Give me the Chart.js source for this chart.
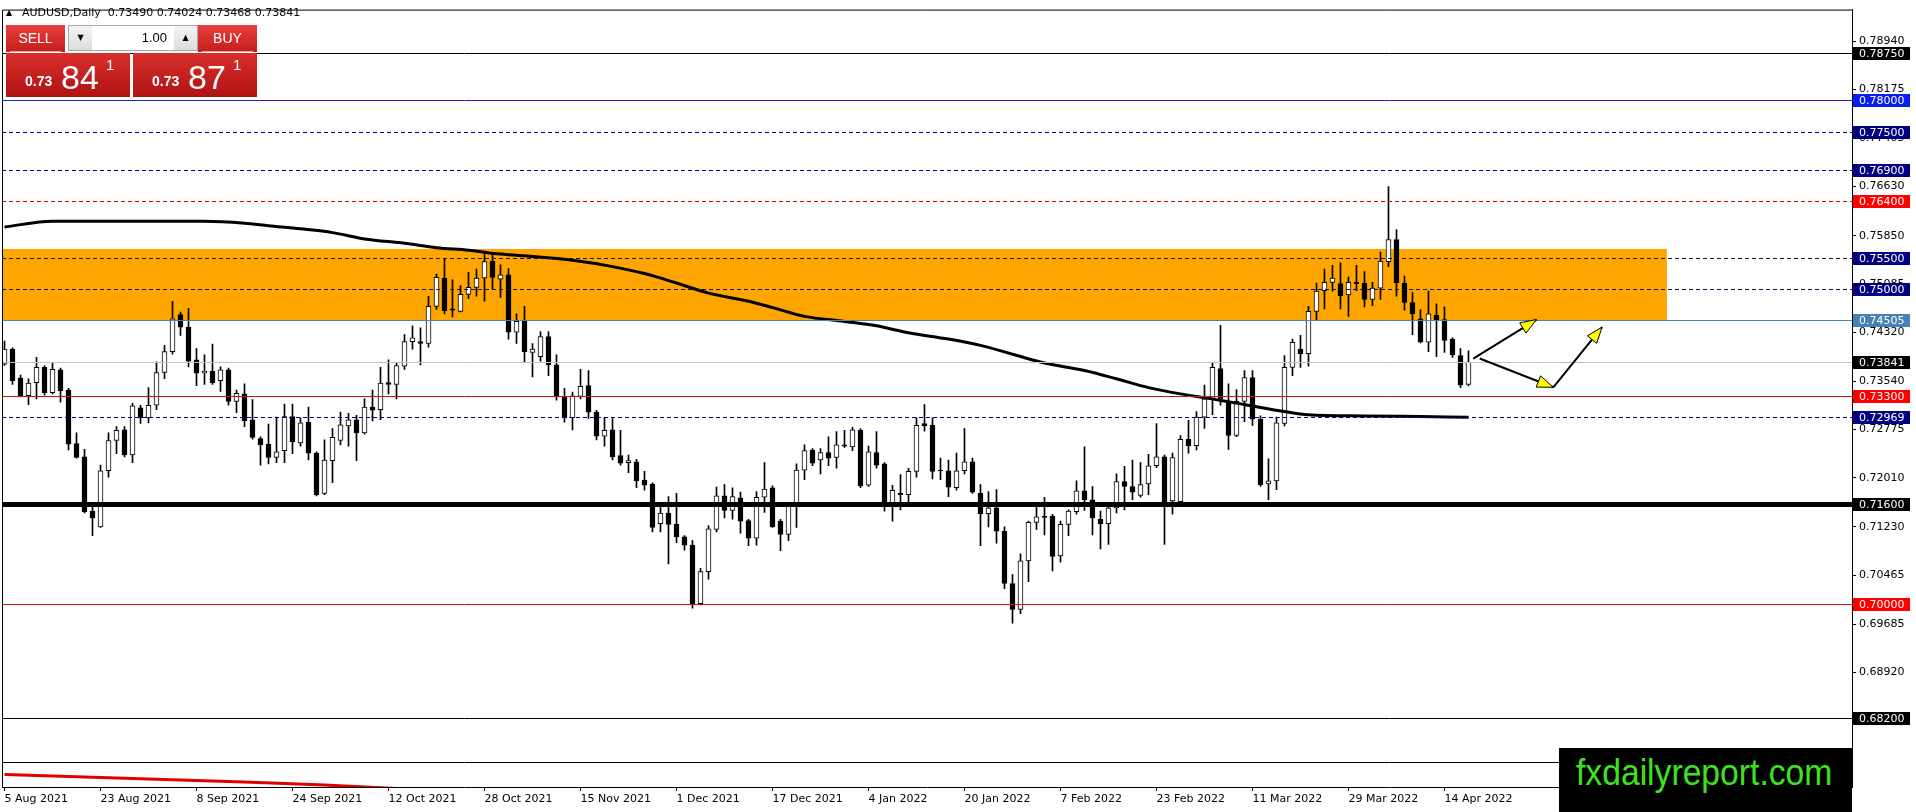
<!DOCTYPE html>
<html>
<head>
<meta charset="utf-8">
<script src="https://cdn.jsdelivr.net/npm/chart.js@4.4.1/dist/chart.umd.min.js"></script>
<style>
  body { margin: 0; background: #fff; overflow: hidden; font-family: "DejaVu Sans", sans-serif; }
  #wrap { position: relative; width: 1916px; height: 812px; }
  #chart { position: absolute; left: 0; top: 0; }
  .hdr { position: absolute; left: 22px; top: 6px; font-size: 11px; line-height: 14px; color: #000; white-space: pre; }
  .tri { position: absolute; left: 6px; top: 8px; font-size: 8px; line-height: 10px; }
  .red { position: absolute; background: linear-gradient(#e7403c, #c41d1d); color: #fff; font-family: "Liberation Sans", Arial, sans-serif; }
  .btn { height: 27px; top: 25px; width: 59px; font-size: 14px; line-height: 27px; text-align: center; }
  .btn i { position: absolute; left: 4px; right: 4px; bottom: 0; height: 1px; background: #f3a0a0; }
  .panel { top: 53px; width: 124px; height: 44px; background: linear-gradient(#d8302c, #b01212); overflow: hidden; }
  .panel span { position: absolute; line-height: 1; white-space: nowrap; }
  .small { font-size: 14px; font-weight: bold; }
  .big { font-size: 34px; }
  .sup { font-size: 15px; }
  .spin { position: absolute; left: 68px; top: 25px; width: 128px; height: 24px; background: #fff; border: 1px solid #a8a8a8; }
  .spin b { position: absolute; top: 0; width: 23px; height: 24px; background: linear-gradient(#f4f4f4, #dcdcdc); font-size: 8px; line-height: 24px; text-align: center; font-weight: normal; }
  .spin .val { position: absolute; left: 28px; width: 70px; top: 0; font-size: 13px; line-height: 24px; text-align: right; font-family: "Liberation Sans", Arial, sans-serif; }
  .mark { position: absolute; left: 1559px; top: 748px; width: 293px; height: 64px; background: #000; overflow: hidden; }
  .mark span { position: absolute; left: 17px; top: 6px; font-family: "Liberation Sans", Arial, sans-serif; font-size: 37px; line-height: 1; color: #3fe21f; transform: scaleX(0.91); transform-origin: 0 0; white-space: nowrap; }
</style>
</head>
<body>
<div id="wrap">
  <canvas id="chart" width="1916" height="812"></canvas>
  <div class="tri">▲</div>
  <div class="hdr">AUDUSD,Daily  0.73490 0.74024 0.73468 0.73841</div>
  <div class="red btn" style="left:6px">SELL<i></i></div>
  <div class="spin"><b style="left:0">▼</b><div class="val">1.00</div><b style="right:0">▲</b></div>
  <div class="red btn" style="left:198px">BUY<i></i></div>
  <div class="red panel" style="left:6px"><span class="small" style="left:19px;top:21px">0.73</span><span class="big" style="left:55px;top:7px">84</span><span class="sup" style="left:100px;top:4px">1</span></div>
  <div class="red panel" style="left:133px"><span class="small" style="left:19px;top:21px">0.73</span><span class="big" style="left:55px;top:7px">87</span><span class="sup" style="left:100px;top:4px">1</span></div>
  <div class="mark"><span>fxdailyreport.com</span></div>
</div>
<script>
// daily AUDUSD candles, bar 0 = 5 Aug 2021 ... bar 183 = 20 Apr 2022
const opens = [
  0.7381, 0.7405, 0.7359, 0.7331, 0.7352, 0.7376, 0.7336, 0.7372, 0.7340, 0.7255,
  0.7234, 0.7148, 0.7123, 0.7212, 0.7260, 0.7277, 0.7237, 0.7312, 0.7296, 0.7316,
  0.7368, 0.7401, 0.7460, 0.7440, 0.7388, 0.7367, 0.7370, 0.7355, 0.7372, 0.7322,
  0.7334, 0.7293, 0.7263, 0.7254, 0.7233, 0.7244, 0.7298, 0.7256, 0.7289, 0.7240,
  0.7176, 0.7228, 0.7260, 0.7283, 0.7293, 0.7272, 0.7313, 0.7309, 0.7352, 0.7349,
  0.7378, 0.7417, 0.7417, 0.7414, 0.7473, 0.7518, 0.7469, 0.7465, 0.7492, 0.7503,
  0.7518, 0.7545, 0.7516, 0.7523, 0.7432, 0.7449, 0.7400, 0.7393, 0.7425, 0.7380,
  0.7329, 0.7296, 0.7330, 0.7347, 0.7305, 0.7267, 0.7277, 0.7236, 0.7225, 0.7226,
  0.7197, 0.7191, 0.7128, 0.7145, 0.7127, 0.7107, 0.7094, 0.7001, 0.7052, 0.7119,
  0.7172, 0.7149, 0.7169, 0.7133, 0.7105, 0.7170, 0.7185, 0.7132, 0.7111, 0.7156,
  0.7213, 0.7245, 0.7229, 0.7241, 0.7233, 0.7253, 0.7250, 0.7276, 0.7189, 0.7241,
  0.7223, 0.7161, 0.7176, 0.7174, 0.7211, 0.7287, 0.7284, 0.7213, 0.7212, 0.7185,
  0.7212, 0.7226, 0.7176, 0.7144, 0.7153, 0.7116, 0.7033, 0.6992, 0.7069, 0.7130,
  0.7140, 0.7140, 0.7077, 0.7127, 0.7147, 0.7180, 0.7166, 0.7135, 0.7128, 0.7153,
  0.7195, 0.7187, 0.7173, 0.7191, 0.7220, 0.7234, 0.7164, 0.7163, 0.7262, 0.7252,
  0.7297, 0.7326, 0.7374, 0.7321, 0.7268, 0.7322, 0.7360, 0.7294, 0.7191, 0.7196,
  0.7287, 0.7376, 0.7405, 0.7398, 0.7465, 0.7498, 0.7511, 0.7509, 0.7491, 0.7511,
  0.7510, 0.7484, 0.7502, 0.7544, 0.7579, 0.7510, 0.7479, 0.7453, 0.7416, 0.7459,
  0.7452, 0.7421, 0.7395, 0.73490
];
const highs = [
  0.7418, 0.7407, 0.7364, 0.7358, 0.7392, 0.7379, 0.7384, 0.7375, 0.7343, 0.7272,
  0.7246, 0.7156, 0.7221, 0.7272, 0.7282, 0.7282, 0.7319, 0.7316, 0.7344, 0.7385,
  0.7411, 0.7481, 0.7464, 0.7470, 0.7406, 0.7396, 0.7413, 0.7377, 0.7375, 0.7340,
  0.7350, 0.7325, 0.7266, 0.7286, 0.7297, 0.7318, 0.7318, 0.7296, 0.7313, 0.7242,
  0.7261, 0.7279, 0.7305, 0.7303, 0.7300, 0.7326, 0.7340, 0.7376, 0.7388, 0.7384,
  0.7428, 0.7442, 0.7439, 0.7489, 0.7524, 0.7549, 0.7515, 0.7506, 0.7527, 0.7532,
  0.7558, 0.7557, 0.7539, 0.7533, 0.7461, 0.7473, 0.7414, 0.7433, 0.7433, 0.7396,
  0.7343, 0.7337, 0.7373, 0.7371, 0.7308, 0.7296, 0.7295, 0.7276, 0.7237, 0.7230,
  0.7211, 0.7193, 0.7158, 0.7171, 0.7176, 0.7109, 0.7101, 0.7057, 0.7125, 0.7186,
  0.7190, 0.7185, 0.7178, 0.7135, 0.7179, 0.7225, 0.7188, 0.7135, 0.7158, 0.7223,
  0.7253, 0.7247, 0.7247, 0.7266, 0.7274, 0.7276, 0.7281, 0.7279, 0.7251, 0.7274,
  0.7225, 0.7189, 0.7206, 0.7216, 0.7296, 0.7317, 0.7296, 0.7232, 0.7229, 0.7240,
  0.7279, 0.7232, 0.7190, 0.7179, 0.7182, 0.7123, 0.7047, 0.7080, 0.7132, 0.7157,
  0.7170, 0.7143, 0.7132, 0.7150, 0.7196, 0.7250, 0.7187, 0.7148, 0.7158, 0.7207,
  0.7219, 0.7229, 0.7225, 0.7238, 0.7287, 0.7237, 0.7240, 0.7268, 0.7292, 0.7306,
  0.7348, 0.7384, 0.7443, 0.7350, 0.7341, 0.7371, 0.7371, 0.7299, 0.7231, 0.7297,
  0.7395, 0.7421, 0.7427, 0.7473, 0.7510, 0.7532, 0.7538, 0.7542, 0.7520, 0.7538,
  0.7528, 0.7511, 0.7559, 0.7663, 0.7595, 0.7521, 0.7495, 0.7468, 0.7497, 0.7477,
  0.7472, 0.7423, 0.7406, 0.74024
];
const lows = [
  0.7379, 0.7349, 0.7329, 0.7317, 0.7326, 0.7332, 0.7334, 0.7321, 0.7245, 0.7232,
  0.7145, 0.7109, 0.7122, 0.7202, 0.7239, 0.7234, 0.7225, 0.7287, 0.7288, 0.7309,
  0.7358, 0.7397, 0.7427, 0.7377, 0.7347, 0.7349, 0.7349, 0.7338, 0.7316, 0.7304,
  0.7282, 0.7262, 0.7221, 0.7223, 0.7225, 0.7225, 0.7239, 0.7251, 0.7229, 0.7172,
  0.7174, 0.7193, 0.7253, 0.7251, 0.7228, 0.7270, 0.7291, 0.7293, 0.7334, 0.7326,
  0.7373, 0.7405, 0.7380, 0.7408, 0.7468, 0.7461, 0.7456, 0.7464, 0.7485, 0.7489,
  0.7481, 0.7501, 0.7487, 0.7421, 0.7414, 0.7385, 0.7361, 0.7386, 0.7363, 0.7324,
  0.7289, 0.7277, 0.7326, 0.7295, 0.7261, 0.7251, 0.7229, 0.7221, 0.7209, 0.7185,
  0.7181, 0.7115, 0.7115, 0.7064, 0.7098, 0.7086, 0.6994, 0.6999, 0.7040, 0.7115,
  0.7137, 0.7135, 0.7113, 0.7093, 0.7094, 0.7146, 0.7122, 0.7085, 0.7101, 0.7122,
  0.7198, 0.7220, 0.7207, 0.7220, 0.7216, 0.7249, 0.7244, 0.7185, 0.7187, 0.7216,
  0.7148, 0.7132, 0.7150, 0.7161, 0.7202, 0.7275, 0.7199, 0.7198, 0.7171, 0.7181,
  0.7207, 0.7176, 0.7093, 0.7123, 0.7097, 0.7025, 0.6970, 0.6985, 0.7036, 0.7119,
  0.7110, 0.7053, 0.7067, 0.7109, 0.7143, 0.7149, 0.7110, 0.7088, 0.7095, 0.7145,
  0.7150, 0.7166, 0.7170, 0.7174, 0.7217, 0.7095, 0.7143, 0.7161, 0.7240, 0.7245,
  0.7279, 0.7301, 0.7316, 0.7246, 0.7266, 0.7290, 0.7284, 0.7187, 0.7166, 0.7182,
  0.7283, 0.7363, 0.7376, 0.7378, 0.7452, 0.7469, 0.7497, 0.7469, 0.7457, 0.7498,
  0.7472, 0.7474, 0.7484, 0.7536, 0.7489, 0.7467, 0.7428, 0.7415, 0.7401, 0.7393,
  0.7400, 0.7392, 0.7344, 0.73468
];
const closes = [
  0.7405, 0.7355, 0.7331, 0.7351, 0.7376, 0.7336, 0.7373, 0.7339, 0.7254, 0.7233,
  0.7147, 0.7137, 0.7212, 0.7260, 0.7276, 0.7237, 0.7315, 0.7296, 0.7316, 0.7368,
  0.7401, 0.7453, 0.7440, 0.7386, 0.7367, 0.7370, 0.7352, 0.7372, 0.7322, 0.7335,
  0.7291, 0.7265, 0.7253, 0.7233, 0.7242, 0.7298, 0.7258, 0.7288, 0.7240, 0.7174,
  0.7229, 0.7265, 0.7285, 0.7293, 0.7272, 0.7313, 0.7308, 0.7351, 0.7349, 0.7379,
  0.7417, 0.7423, 0.7414, 0.7473, 0.7519, 0.7466, 0.7467, 0.7492, 0.7503, 0.7518,
  0.7544, 0.7519, 0.7523, 0.7432, 0.7449, 0.7401, 0.7405, 0.7425, 0.7380, 0.7329,
  0.7296, 0.7331, 0.7346, 0.7305, 0.7267, 0.7276, 0.7234, 0.7224, 0.7228, 0.7196,
  0.7189, 0.7122, 0.7145, 0.7127, 0.7107, 0.7094, 0.6999, 0.7052, 0.7120, 0.7172,
  0.7149, 0.7171, 0.7132, 0.7105, 0.7170, 0.7183, 0.7123, 0.7111, 0.7156, 0.7213,
  0.7244, 0.7224, 0.7241, 0.7232, 0.7253, 0.7251, 0.7277, 0.7188, 0.7242, 0.7221,
  0.7161, 0.7181, 0.7174, 0.7211, 0.7284, 0.7283, 0.7211, 0.7212, 0.7186, 0.7212,
  0.7226, 0.7178, 0.7144, 0.7153, 0.7116, 0.7033, 0.6992, 0.7069, 0.7130, 0.7139,
  0.7138, 0.7076, 0.7127, 0.7148, 0.7180, 0.7166, 0.7137, 0.7128, 0.7153, 0.7195,
  0.7187, 0.7178, 0.7190, 0.7220, 0.7234, 0.7163, 0.7233, 0.7262, 0.7252, 0.7297,
  0.7326, 0.7376, 0.7326, 0.7268, 0.7322, 0.7360, 0.7294, 0.7190, 0.7196, 0.7288,
  0.7376, 0.7416, 0.7398, 0.7465, 0.7497, 0.7511, 0.7518, 0.7490, 0.7511, 0.7509,
  0.7484, 0.7502, 0.7545, 0.7579, 0.7510, 0.7479, 0.7461, 0.7416, 0.7461, 0.7452,
  0.7419, 0.7396, 0.7348, 0.73841
];

// moving average (thick black) read at sample bars
const maBars   = [0, 6, 10, 22, 25, 30, 33, 37, 41, 45, 50, 54, 58, 62, 66, 71, 76, 80, 84, 88,
                  93, 96, 100, 105, 109, 113, 118, 122, 126, 130, 135, 139, 143, 147, 151, 155, 160, 163, 170, 177, 183];
const maValues = [0.7599, 0.7608, 0.7608, 0.7608, 0.7608, 0.7605, 0.7601, 0.7596, 0.7590, 0.7580,
                  0.7573, 0.7566, 0.7562, 0.7556, 0.7552, 0.7546, 0.7536, 0.7525, 0.7510, 0.7494,
                  0.7481, 0.7471, 0.7457, 0.7449, 0.7442, 0.7431, 0.7421, 0.7411, 0.7397, 0.7383,
                  0.7371, 0.7358, 0.7344, 0.7334, 0.7326, 0.7317, 0.7306, 0.7301, 0.7299, 0.7298, 0.7297];

// slow red average running off the bottom
const redBars   = [0, 10, 20, 30, 40, 50, 60];
const redValues = [0.6730, 0.6726, 0.6722, 0.6718, 0.6713, 0.6707, 0.6702];

const xLabelBars = [0, 12, 24, 36, 48, 60, 72, 84, 96, 108, 120, 132, 144, 156, 168, 180];
const xLabels = ['5 Aug 2021', '23 Aug 2021', '8 Sep 2021', '24 Sep 2021', '12 Oct 2021', '28 Oct 2021',
                 '15 Nov 2021', '1 Dec 2021', '17 Dec 2021', '4 Jan 2022', '20 Jan 2022', '7 Feb 2022',
                 '23 Feb 2022', '11 Mar 2022', '29 Mar 2022', '14 Apr 2022'];
const yTicks = [0.78940, 0.78175, 0.77405, 0.76630, 0.75850, 0.75085, 0.74320, 0.73540,
                0.72775, 0.72010, 0.71230, 0.70465, 0.69685, 0.68920];

// horizontal levels and the supply zone
const levelPrices = [0.78750, 0.78000, 0.77500, 0.76900, 0.76400, 0.75500, 0.75000, 0.74505,
                     0.73841, 0.73300, 0.72969, 0.71600, 0.70000, 0.68200, 0.67500];
const zoneLow = 0.74505;
const zoneHigh = 0.75640;
const zoneEndBar = 207.8;

// hand drawn arrows: [fromBar, fromPrice, toBar, toPrice]
const arrows = [
  [183.6, 0.73901, 191.5, 0.74520],
  [184.4, 0.73901, 193.6, 0.73445],
  [193.6, 0.73445, 199.7, 0.74399]
];

const NAVY = '#000080';
const levelStyle = {
  0.78750: { line: '#000000', box: '#000000', width: 1 },
  0.78000: { line: '#1c1cd0', box: '#0a1ef0', width: 1 },
  0.77500: { line: NAVY, box: NAVY, width: 1, dash: [4, 3] },
  0.76900: { line: NAVY, box: NAVY, width: 1, dash: [4, 3] },
  0.76400: { line: '#e00000', box: '#ff0000', width: 1, dash: [4, 3] },
  0.75500: { line: '#101040', box: NAVY, width: 1, dash: [4, 3] },
  0.75000: { line: '#101040', box: NAVY, width: 1, dash: [4, 3] },
  0.74505: { line: '#4682b4', box: '#4682b4', width: 1 },
  0.73841: { line: '#c0c0c0', box: '#000000', width: 1 },
  0.73300: { line: '#cc1010', box: '#ff0000', width: 1 },
  0.72969: { line: NAVY, box: NAVY, width: 1, dash: [4, 3] },
  0.71600: { line: '#000000', box: '#000000', width: 5 },
  0.70000: { line: '#dd1010', box: '#ff0000', width: 1 },
  0.68200: { line: '#000000', box: '#000000', width: 1 },
  0.67500: { line: '#000000', box: null, width: 1 }
};

const isUp = i => closes[i] >= opens[i];
const bodies = opens.map((o, i) => ({ x: i, y: [o, closes[i]] }));
const wicks = lows.map((l, i) => ({ x: i, y: [l, highs[i]] }));

const mt4Plugin = {
  id: 'mt4',
  beforeDatasetsDraw(chart) {
    const { ctx, chartArea: a, scales: { x, y } } = chart;
    ctx.save();
    ctx.fillStyle = '#ffa500';
    const top = y.getPixelForValue(zoneHigh);
    const bot = y.getPixelForValue(zoneLow);
    ctx.fillRect(a.left, top, x.getPixelForValue(zoneEndBar) - a.left, bot - top);
    ctx.restore();
  },
  afterDatasetsDraw(chart) {
    const { ctx, chartArea: a, scales: { x, y } } = chart;
    ctx.save();
    levelPrices.forEach(p => {
      const st = levelStyle[p.toFixed(5)] || levelStyle[p];
      const py = st.width % 2 ? Math.round(y.getPixelForValue(p)) + 0.5 : Math.round(y.getPixelForValue(p));
      ctx.strokeStyle = st.line;
      ctx.lineWidth = st.width;
      ctx.setLineDash(st.dash || []);
      ctx.beginPath();
      ctx.moveTo(a.left, py);
      ctx.lineTo(a.right, py);
      ctx.stroke();
    });
    ctx.setLineDash([]);
    // arrows
    arrows.forEach(([b0, p0, b1, p1]) => {
      const x0 = x.getPixelForValue(b0), y0 = y.getPixelForValue(p0);
      const x1 = x.getPixelForValue(b1), y1 = y.getPixelForValue(p1);
      ctx.strokeStyle = '#000';
      ctx.lineWidth = 2;
      ctx.beginPath();
      ctx.moveTo(x0, y0);
      ctx.lineTo(x1, y1);
      ctx.stroke();
      const ang = Math.atan2(y1 - y0, x1 - x0);
      const len = 16, half = 6;
      const bx = x1 - Math.cos(ang) * len, by = y1 - Math.sin(ang) * len;
      ctx.beginPath();
      ctx.moveTo(x1, y1);
      ctx.lineTo(bx + Math.sin(ang) * half, by - Math.cos(ang) * half);
      ctx.lineTo(bx - Math.sin(ang) * half, by + Math.cos(ang) * half);
      ctx.closePath();
      ctx.fillStyle = '#ffff00';
      ctx.fill();
      ctx.lineWidth = 1;
      ctx.stroke();
    });
    // frame
    ctx.strokeStyle = '#000';
    ctx.lineWidth = 1;
    ctx.beginPath();
    ctx.moveTo(a.left + 0.5, a.bottom);
    ctx.lineTo(a.left + 0.5, a.top + 0.5);
    ctx.lineTo(a.right, a.top + 0.5);
    ctx.stroke();
    ctx.restore();
  },
  afterDraw(chart) {
    const { ctx, chartArea: a, scales: { y } } = chart;
    ctx.save();
    ctx.font = '11px "DejaVu Sans"';
    ctx.textBaseline = 'middle';
    levelPrices.forEach(p => {
      const st = levelStyle[p.toFixed(5)] || levelStyle[p];
      if (!st.box) return;
      const py = Math.round(y.getPixelForValue(p));
      ctx.fillStyle = st.box;
      ctx.fillRect(a.right + 1, py - 6, 57, 13);
      ctx.fillStyle = '#fff';
      ctx.fillText(p.toFixed(5), a.right + 7, py + 1);
    });
    ctx.restore();
  }
};

Chart.defaults.font.family = '"DejaVu Sans", sans-serif';
Chart.defaults.font.size = 11;
Chart.defaults.color = '#000';

new Chart(document.getElementById('chart'), {
  type: 'bar',
  data: {
    datasets: [
      {
        type: 'line', data: maBars.map((b, k) => ({ x: b, y: maValues[k] })),
        borderColor: '#000', borderWidth: 3, pointRadius: 0, cubicInterpolationMode: 'monotone', order: 0
      },
      {
        type: 'line', data: redBars.map((b, k) => ({ x: b, y: redValues[k] })),
        borderColor: '#e00000', borderWidth: 3, pointRadius: 0, order: 0, clip: 0
      },
      {
        data: bodies, grouped: false, barThickness: 5, order: 1,
        backgroundColor: c => isUp(c.dataIndex) ? '#ffffff' : '#000000',
        borderColor: '#000', borderWidth: 1, borderSkipped: false
      },
      {
        data: wicks, grouped: false, barThickness: 1, order: 2,
        backgroundColor: '#000', borderWidth: 0
      }
    ]
  },
  options: {
    responsive: false,
    animation: false,
    devicePixelRatio: 1,
    layout: { padding: { left: 2, top: 3, right: 0, bottom: 0 } },
    plugins: { legend: { display: false }, tooltip: { enabled: false } },
    scales: {
      x: {
        type: 'linear', min: -0.3125, max: 230.94, offset: false,
        grid: { offset: false, drawOnChartArea: false, drawTicks: true, tickLength: 4, color: '#000' },
        border: { display: true, color: '#000' },
        afterBuildTicks: s => { s.ticks = xLabelBars.map(v => ({ value: v })); },
        afterFit: s => { s.height = 25; },
        ticks: {
          autoSkip: false, maxRotation: 0, align: 'start', padding: 2, color: '#000',
          callback: v => xLabels[xLabelBars.indexOf(v)]
        }
      },
      y: {
        type: 'linear', position: 'right', min: 0.6710, max: 0.7944,
        grid: { drawOnChartArea: false, drawTicks: true, tickLength: 4, color: '#000' },
        border: { display: true, color: '#000' },
        afterBuildTicks: s => { s.ticks = yTicks.map(v => ({ value: v })); },
        afterFit: s => { s.width = 64; },
        ticks: { autoSkip: false, padding: 3, color: '#000', crossAlign: 'near', callback: v => v.toFixed(5) }
      }
    }
  },
  plugins: [mt4Plugin]
});
</script>
</body>
</html>
